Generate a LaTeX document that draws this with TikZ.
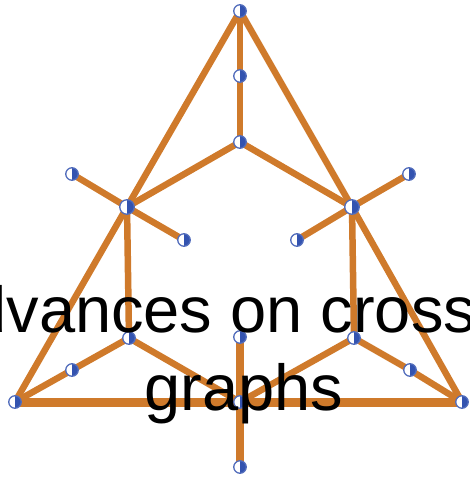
\documentclass[tikz,border=0pt]{standalone}
\usepackage{fontspec}
\setmainfont{Liberation Sans}
\usetikzlibrary{backgrounds}
\definecolor{EdgeOrange}{HTML}{CF7A2B}
\definecolor{NodeBlue}{HTML}{3353B0}

\begin{document}
\begin{tikzpicture}[
  x=1pt,y=-1pt,
  vert/.style={circle,draw=NodeBlue!85,line width=1.3pt,fill=white,minimum size=12.5pt,inner sep=0pt,
    path picture={\fill[NodeBlue] (path picture bounding box.north) rectangle (path picture bounding box.south east);}},
  hub/.style={vert,minimum size=14.5pt},
  edge/.style={draw=EdgeOrange,line width=6.5pt},
  base/.style={edge,line width=9pt},
  title/.style={anchor=base,inner sep=0pt,font=\fontsize{65}{78}\selectfont}
]
\useasboundingbox (0,0) rectangle (470,482);
\node[vert] (top) at (240,11) {};
\node[vert] (mid1) at (240,76) {};
\node[vert] (mid2) at (240,142) {};
\node[hub] (lhub) at (127,207) {};
\node[hub] (rhub) at (352,207) {};
\node[vert] (lout) at (72,174) {};
\node[vert] (lin) at (184,240) {};
\node[vert] (rout) at (409,174) {};
\node[vert] (rin) at (297,240) {};
\node[vert] (llow) at (129,338) {};
\node[vert] (rlow) at (354,338) {};
\node[vert] (lside) at (72,370) {};
\node[vert] (rside) at (410,370) {};
\node[vert] (bl) at (15,402) {};
\node[vert] (br) at (462,402) {};
\node[vert] (cup) at (240,337) {};
\node[vert] (cmid) at (240,402) {};
\node[vert] (cdown) at (240,467) {};
\begin{scope}[on background layer]
\draw[base] (bl.center) -- (br.center);
\draw[edge] (top.center) -- (lhub.center) -- (bl.center);
\draw[edge] (top.center) -- (rhub.center) -- (br.center);
\draw[edge] (top.center) -- (mid1.center) -- (mid2.center);
\draw[edge] (mid2.center) -- (lhub.center);
\draw[edge] (mid2.center) -- (rhub.center);
\draw[edge] (lhub.center) -- (lout.center);
\draw[edge] (lhub.center) -- (lin.center);
\draw[edge] (rhub.center) -- (rout.center);
\draw[edge] (rhub.center) -- (rin.center);
\draw[edge] (lhub.center) -- (llow.center);
\draw[edge] (rhub.center) -- (rlow.center);
\draw[edge] (bl.center) -- (lside.center) -- (llow.center) -- (cmid.center);
\draw[edge] (br.center) -- (rside.center) -- (rlow.center) -- (cmid.center);
\draw[edge,line width=7.5pt] (cup.center) -- (cmid.center) -- (cdown.center);
\end{scope}
\node[title] (ttl1) at (245,332) {Advances on crossing};
\node[title] (ttl2) at (244,410) {graphs};
\end{tikzpicture}
\end{document}
